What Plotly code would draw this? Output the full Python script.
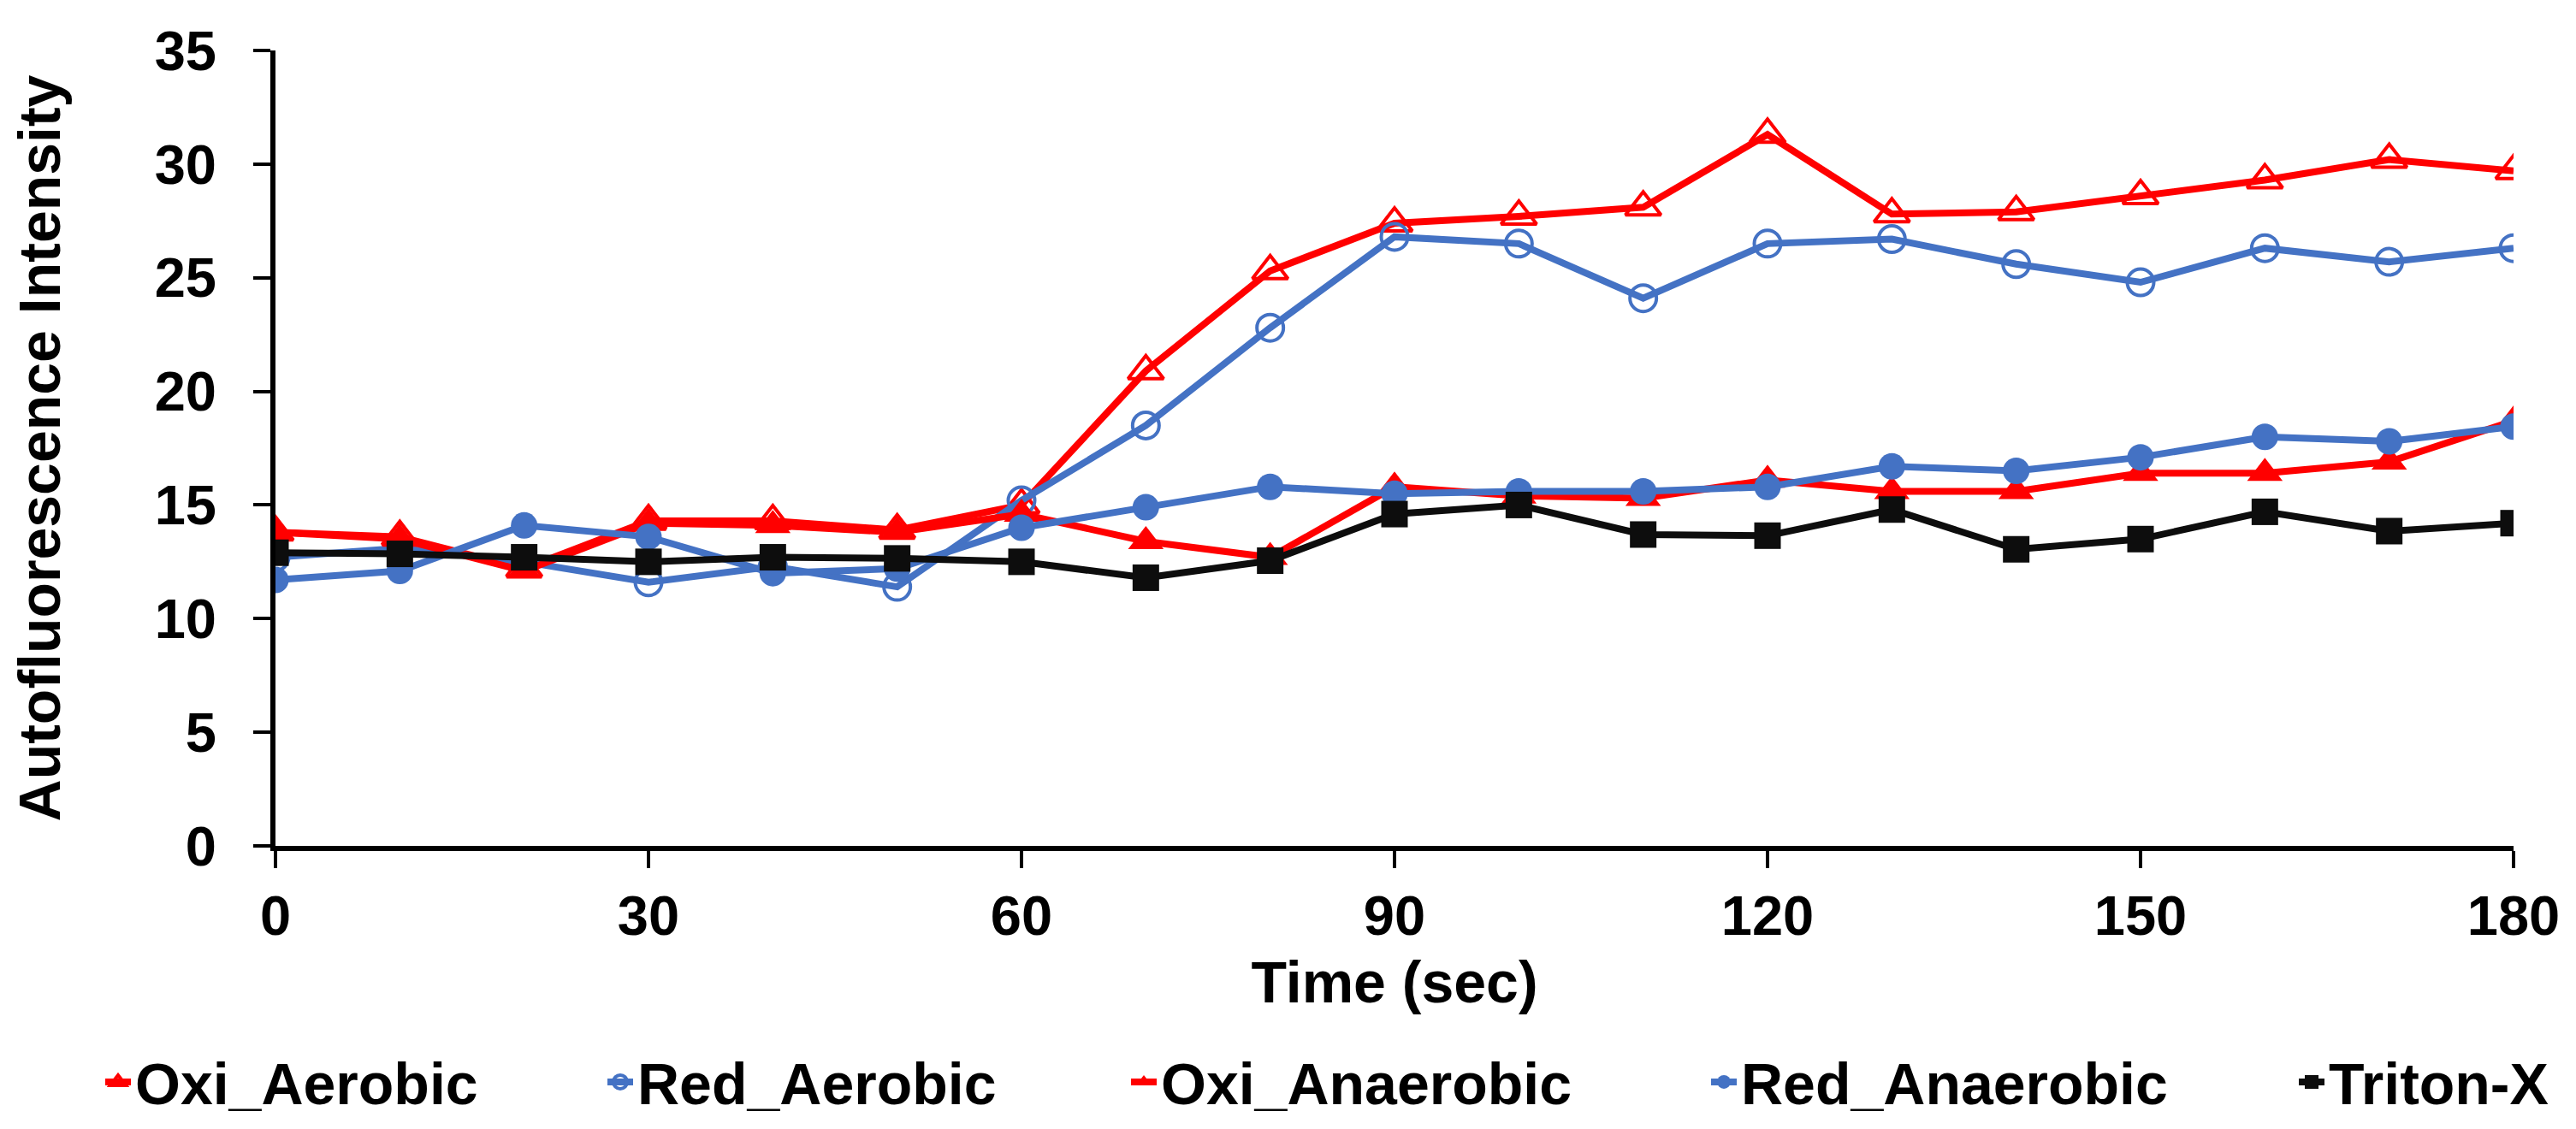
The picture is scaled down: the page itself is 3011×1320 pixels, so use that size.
import plotly.graph_objects as go

time_sec = [0, 10, 20, 30, 40, 50, 60, 70, 80, 90, 100, 110, 120, 130, 140, 150, 160, 170, 180]

oxi_aerobic = [13.8, 13.6, 12.2, 14.3, 14.3, 13.9, 15.0, 20.9, 25.3, 27.4, 27.7, 28.1, 31.3, 27.8, 27.9, 28.6, 29.3, 30.2, 29.7]
red_aerobic = [12.7, 13.1, 12.5, 11.6, 12.3, 11.4, 15.2, 18.5, 22.8, 26.8, 26.5, 24.1, 26.5, 26.7, 25.6, 24.8, 26.3, 25.7, 26.3]
oxi_anaerobic = [13.8, 13.5, 12.1, 14.2, 14.1, 13.8, 14.6, 13.4, 12.7, 15.8, 15.4, 15.3, 16.1, 15.6, 15.6, 16.4, 16.4, 16.9, 18.7]
red_anaerobic = [11.7, 12.1, 14.1, 13.6, 12.0, 12.2, 14.0, 14.9, 15.8, 15.5, 15.6, 15.6, 15.8, 16.7, 16.5, 17.1, 18.0, 17.8, 18.45]
triton_x = [12.9, 12.85, 12.7, 12.5, 12.7, 12.65, 12.5, 11.8, 12.55, 14.6, 15.0, 13.7, 13.65, 14.8, 13.05, 13.5, 14.7, 13.85, 14.2]

x_ticks = [0, 30, 60, 90, 120, 150, 180]
y_ticks = [0, 5, 10, 15, 20, 25, 30, 35]

RED = "#FF0000"
BLUE = "#4472C4"
BLACK = "#0D0D0D"
FONT = "Liberation Sans, Arial, sans-serif"

W, H = 3011, 1320
ML, MR, MT, MB = 314, 81, 51, 332
PW = W - ML - MR

series = [
    ("Oxi_Aerobic", oxi_aerobic, RED, "triangle-up-open", 36),
    ("Red_Aerobic", red_aerobic, BLUE, "circle-open", 31),
    ("Oxi_Anaerobic", oxi_anaerobic, RED, "triangle-up", 36),
    ("Red_Anaerobic", red_anaerobic, BLUE, "circle", 31),
    ("Triton-X", triton_x, BLACK, "square", 31),
]

# legend box left positions (pixels) derived from the reference layout
legend_left_px = [110, 697, 1309, 1987, 2674]

fig = go.Figure()
for i, (name, vals, col, sym, sz) in enumerate(series):
    lg = "legend" if i == 0 else f"legend{i+1}"
    fig.add_trace(go.Scatter(
        x=time_sec, y=vals, name=name, mode="lines+markers",
        line=dict(color=col, width=8),
        marker=dict(symbol=sym, size=sz, color=col,
                    line=dict(color=col, width=4 if "open" in sym else 0)),
        legend=lg, showlegend=True,
    ))

layout_legends = {}
for i, lx in enumerate(legend_left_px):
    key = "legend" if i == 0 else f"legend{i+1}"
    layout_legends[key] = dict(
        x=(lx - ML) / PW, xref="paper", xanchor="left",
        y=-0.297, yref="paper", yanchor="middle",
        orientation="h", itemwidth=30,
        bgcolor="rgba(0,0,0,0)",
        font=dict(family=FONT, size=68, color="black", weight="bold"),
    )

axis_common = dict(
    showline=True, linecolor="black", linewidth=6,
    ticks="outside", tickcolor="black", tickwidth=4, ticklen=20,
    showgrid=False, zeroline=False, automargin=False,
    tickfont=dict(family=FONT, size=65, color="black", weight="bold"),
)

fig.update_layout(
    width=W, height=H,
    showlegend=True,
    margin=dict(l=ML, r=MR, t=MT, b=MB),
    paper_bgcolor="white", plot_bgcolor="white",
    font=dict(family=FONT, color="black", weight="bold"),
    xaxis=dict(
        range=[0, 180], tickvals=x_ticks, ticktext=[str(v) for v in x_ticks],
        title=dict(text="Time (sec)", font=dict(family=FONT, size=68, color="black", weight="bold"), standoff=20),
        ticklabelstandoff=0,
        **axis_common,
    ),
    yaxis=dict(
        range=[0, 35], tickvals=y_ticks, ticktext=[str(v) for v in y_ticks],
        title=dict(text="Autofluorescence Intensity", font=dict(family=FONT, size=68, color="black", weight="bold"), standoff=95),
        ticklabelstandoff=30,
        **axis_common,
    ),
    **layout_legends,
)

fig.write_html("out.html")
